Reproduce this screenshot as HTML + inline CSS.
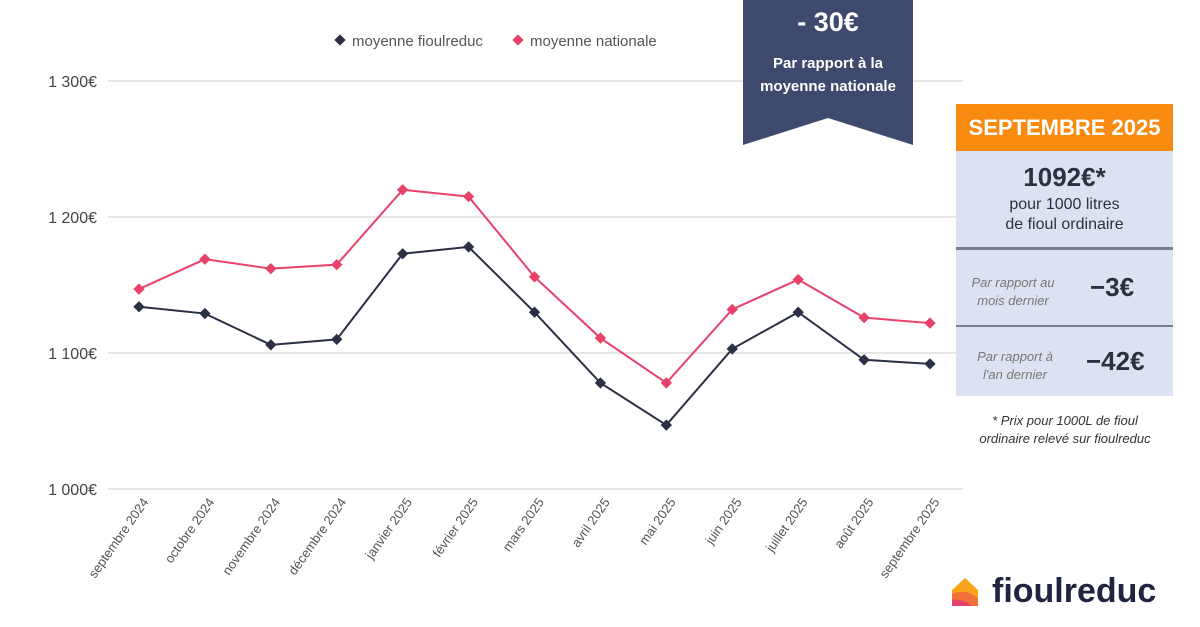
<!DOCTYPE html>
<html><head><meta charset="utf-8"><style>
body{margin:0;width:1200px;height:627px;background:#fff;font-family:"Liberation Sans",sans-serif;position:relative;overflow:hidden}
.abs{position:absolute}
</style></head><body>
<svg class="abs" style="left:0;top:0" width="1200" height="627">
<g id="grid"></g><g id="lines"></g>
<g>
<rect x="336" y="36" width="8" height="8" transform="rotate(45 340 40)" fill="#2b3045"/>
<text x="352" y="46" font-size="15" fill="#555">moyenne fioulreduc</text>
<rect x="514" y="36" width="8" height="8" transform="rotate(45 518 40)" fill="#e8416a"/>
<text x="530" y="46" font-size="15" fill="#555">moyenne nationale</text>
</g>
<path d="M743 0H913V145L828 118L743 145Z" fill="#3d4a6d"/>
<text x="828" y="31" text-anchor="middle" font-size="27" font-weight="bold" fill="#fff">- 30€</text>
<text x="828" y="68" text-anchor="middle" font-size="15" font-weight="bold" fill="#fff">Par rapport à la</text>
<text x="828" y="91" text-anchor="middle" font-size="15" font-weight="bold" fill="#fff">moyenne nationale</text>
</svg>
<div class="abs" style="left:956px;top:104px;width:217px;height:292px;background:#dde2f2"></div>
<div class="abs" style="left:956px;top:104px;width:217px;height:47px;background:#f78a0f;color:#fff;font-weight:bold;font-size:22px;text-align:center;line-height:47px">SEPTEMBRE 2025</div>
<div class="abs" style="left:956px;top:162px;width:217px;text-align:center;color:#2b3045">
<div style="font-size:26px;font-weight:bold">1092€*</div>
<div style="font-size:16px;line-height:20px;margin-top:2px">pour 1000 litres<br>de fioul ordinaire</div></div>
<div class="abs" style="left:956px;top:247px;width:217px;height:3px;background:#7a7f8c"></div>
<div class="abs" style="left:956px;top:325px;width:217px;height:2px;background:#7a7f8c"></div>
<div class="abs" style="left:958px;top:274px;width:110px;text-align:center;font-style:italic;font-size:13px;color:#777;line-height:18px">Par rapport au<br>mois dernier</div>
<div class="abs" style="left:1090px;top:272px;font-weight:bold;font-size:26px;color:#2b3045">−3€</div>
<div class="abs" style="left:960px;top:348px;width:110px;text-align:center;font-style:italic;font-size:13px;color:#777;line-height:18px">Par rapport à<br>l'an dernier</div>
<div class="abs" style="left:1086px;top:346px;font-weight:bold;font-size:26px;color:#2b3045">−42€</div>
<div class="abs" style="left:950px;top:412px;width:230px;text-align:center;font-style:italic;font-size:13px;color:#333;line-height:18px">* Prix pour 1000L de fioul<br>ordinaire relevé sur fioulreduc</div>
<div class="abs" style="left:950px;top:576px;width:30px;height:32px">
<svg width="30" height="32"><path d="M2 14L15 2L28 14V30H2Z" fill="#f7a51b"/><path d="M2 18Q15 12 28 22V30H2Z" fill="#f2703a"/><path d="M2 24Q12 22 22 30H2Z" fill="#e8416a"/></svg></div>
<div class="abs" style="left:992px;top:572px;font-size:34px;font-weight:bold;color:#1f2540">fioulreduc</div>
<script>
const months=["septembre 2024","octobre 2024","novembre 2024","décembre 2024","janvier 2025","février 2025","mars 2025","avril 2025","mai 2025","juin 2025","juillet 2025","août 2025","septembre 2025"];
const fioulreduc=[1134,1129,1106,1110,1173,1178,1130,1078,1047,1103,1130,1095,1092];
const nationale=[1147,1169,1162,1165,1220,1215,1156,1111,1078,1132,1154,1126,1122];
const yTicks=[1000,1100,1200,1300];
const NS="http://www.w3.org/2000/svg";
const x=i=>139+i*(930-139)/12;
const y=v=>489-(v-1000)*1.36;
const grid=document.getElementById('grid'),lines=document.getElementById('lines');
function mk(t,a,p){const e=document.createElementNS(NS,t);for(const k in a)e.setAttribute(k,a[k]);p.appendChild(e);return e;}
yTicks.forEach(t=>{
 const l=mk('line',{x1:108,x2:963,y1:y(t),y2:y(t),stroke:'#ddd','stroke-width':1.5},grid);
 
 
 const tx=mk('text',{x:97,y:y(t)+6,'text-anchor':'end','font-size':16,fill:'#444'},grid);
 tx.textContent=(t/1000|0)+' '+String(t%1000).padStart(3,'0')+'€';
 
 
});
months.forEach((m,i)=>{
 const tx=mk('text',{x:x(i)+10,y:502,'text-anchor':'end','font-size':13,fill:'#555',transform:`rotate(-55 ${x(i)+10} 502)`},grid);
 tx.textContent=m;
 
 
});
[[nationale,'#e8416a','nationale'],[fioulreduc,'#2b3045','fioulreduc']].forEach(([d,c,n])=>{
 const p=mk('polyline',{points:d.map((v,i)=>x(i)+','+y(v)).join(' '),fill:'none',stroke:c,'stroke-width':2},lines);
 
 
 d.forEach((v,i)=>{
  const r=mk('rect',{x:x(i)-4,y:y(v)-4,width:8,height:8,fill:c,transform:`rotate(45 ${x(i)} ${y(v)})`},lines);
  
  
 });
});
</script>
</body></html>
